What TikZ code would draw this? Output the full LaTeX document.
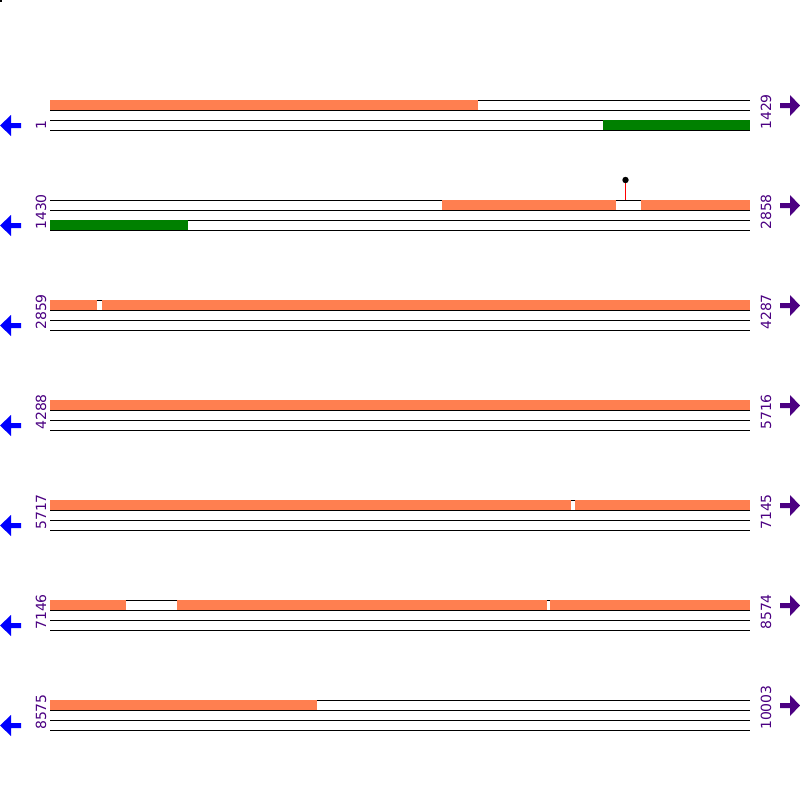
\documentclass[tikz,border=0pt]{standalone}
\usepackage{fontspec}
\setmainfont{DejaVu Sans}
\definecolor{cds}{HTML}{FF7F50}
\definecolor{grn}{HTML}{008000}
\definecolor{blu}{HTML}{0000FF}
\definecolor{pur}{HTML}{4B0082}
\begin{document}
\begin{tikzpicture}[x=1pt,y=-1pt,
  strand/.style={black,line width=1pt},
  orangebar/.style={fill=cds,draw=none},
  greenbar/.style={fill=grn,draw=none},
  numlabel/.style={rotate=90,anchor=west,inner sep=0pt,text=pur,font=\fontsize{14}{15}\selectfont},
  larrow/.style={fill=blu,draw=none},
  rarrow/.style={fill=pur,draw=none}]
\useasboundingbox[fill=white] (0,0) rectangle (800,800);
\fill[black] (0,0) rectangle (2,2);
% strands
\foreach \i in {0,...,6}{
  \pgfmathsetmacro{\yo}{100*\i}
  \draw[strand] (50,100+\yo) -- (750,100+\yo);
  \draw[strand] (50,110+\yo) -- (750,110+\yo);
  \draw[strand] (50,120+\yo) -- (750,120+\yo);
  \draw[strand] (50,130+\yo) -- (750,130+\yo);
  \fill[larrow] (0,125.5+\yo) -- (11,115+\yo) -- (11,123+\yo) -- (21,123+\yo) -- (21,128+\yo) -- (11,128+\yo) -- (11,136+\yo) -- cycle;
  \fill[rarrow] (800,105.5+\yo) -- (790,95+\yo) -- (790,103+\yo) -- (780,103+\yo) -- (780,108+\yo) -- (790,108+\yo) -- (790,116+\yo) -- cycle;
}
% row 1
\fill[orangebar] (50,100) rectangle (478,110);
\fill[greenbar] (603,120) rectangle (750,130);
% row 2
\fill[orangebar] (442,200) rectangle (616,210);
\fill[orangebar] (641,200) rectangle (750,210);
\fill[greenbar] (50,220) rectangle (188,230);
\draw[red,line width=1pt] (625.5,180) -- (625.5,200);
\fill[black] (625.5,180) circle (3.2);
% row 3
\fill[orangebar] (50,300) rectangle (96.5,310);
\fill[orangebar] (102,300) rectangle (750,310);
% row 4
\fill[orangebar] (50,400) rectangle (750,410);
% row 5
\fill[orangebar] (50,500) rectangle (571,510);
\fill[orangebar] (574.5,500) rectangle (750,510);
% row 6
\fill[orangebar] (50,600) rectangle (126,610);
\fill[orangebar] (177,600) rectangle (547,610);
\fill[orangebar] (550,600) rectangle (750,610);
% row 7
\fill[orangebar] (50,700) rectangle (316.5,710);
% labels
\node[numlabel] (l1) at (41,130) {1};
\node[numlabel] (r1) at (766,130) {1429};
\node[numlabel] (l2) at (41,230) {1430};
\node[numlabel] (r2) at (766,230) {2858};
\node[numlabel] (l3) at (41,330) {2859};
\node[numlabel] (r3) at (766,330) {4287};
\node[numlabel] (l4) at (41,430) {4288};
\node[numlabel] (r4) at (766,430) {5716};
\node[numlabel] (l5) at (41,530) {5717};
\node[numlabel] (r5) at (766,530) {7145};
\node[numlabel] (l6) at (41,630) {7146};
\node[numlabel] (r6) at (766,630) {8574};
\node[numlabel] (l7) at (41,730) {8575};
\node[numlabel] (r7) at (766,730) {10003};
\end{tikzpicture}
\end{document}
